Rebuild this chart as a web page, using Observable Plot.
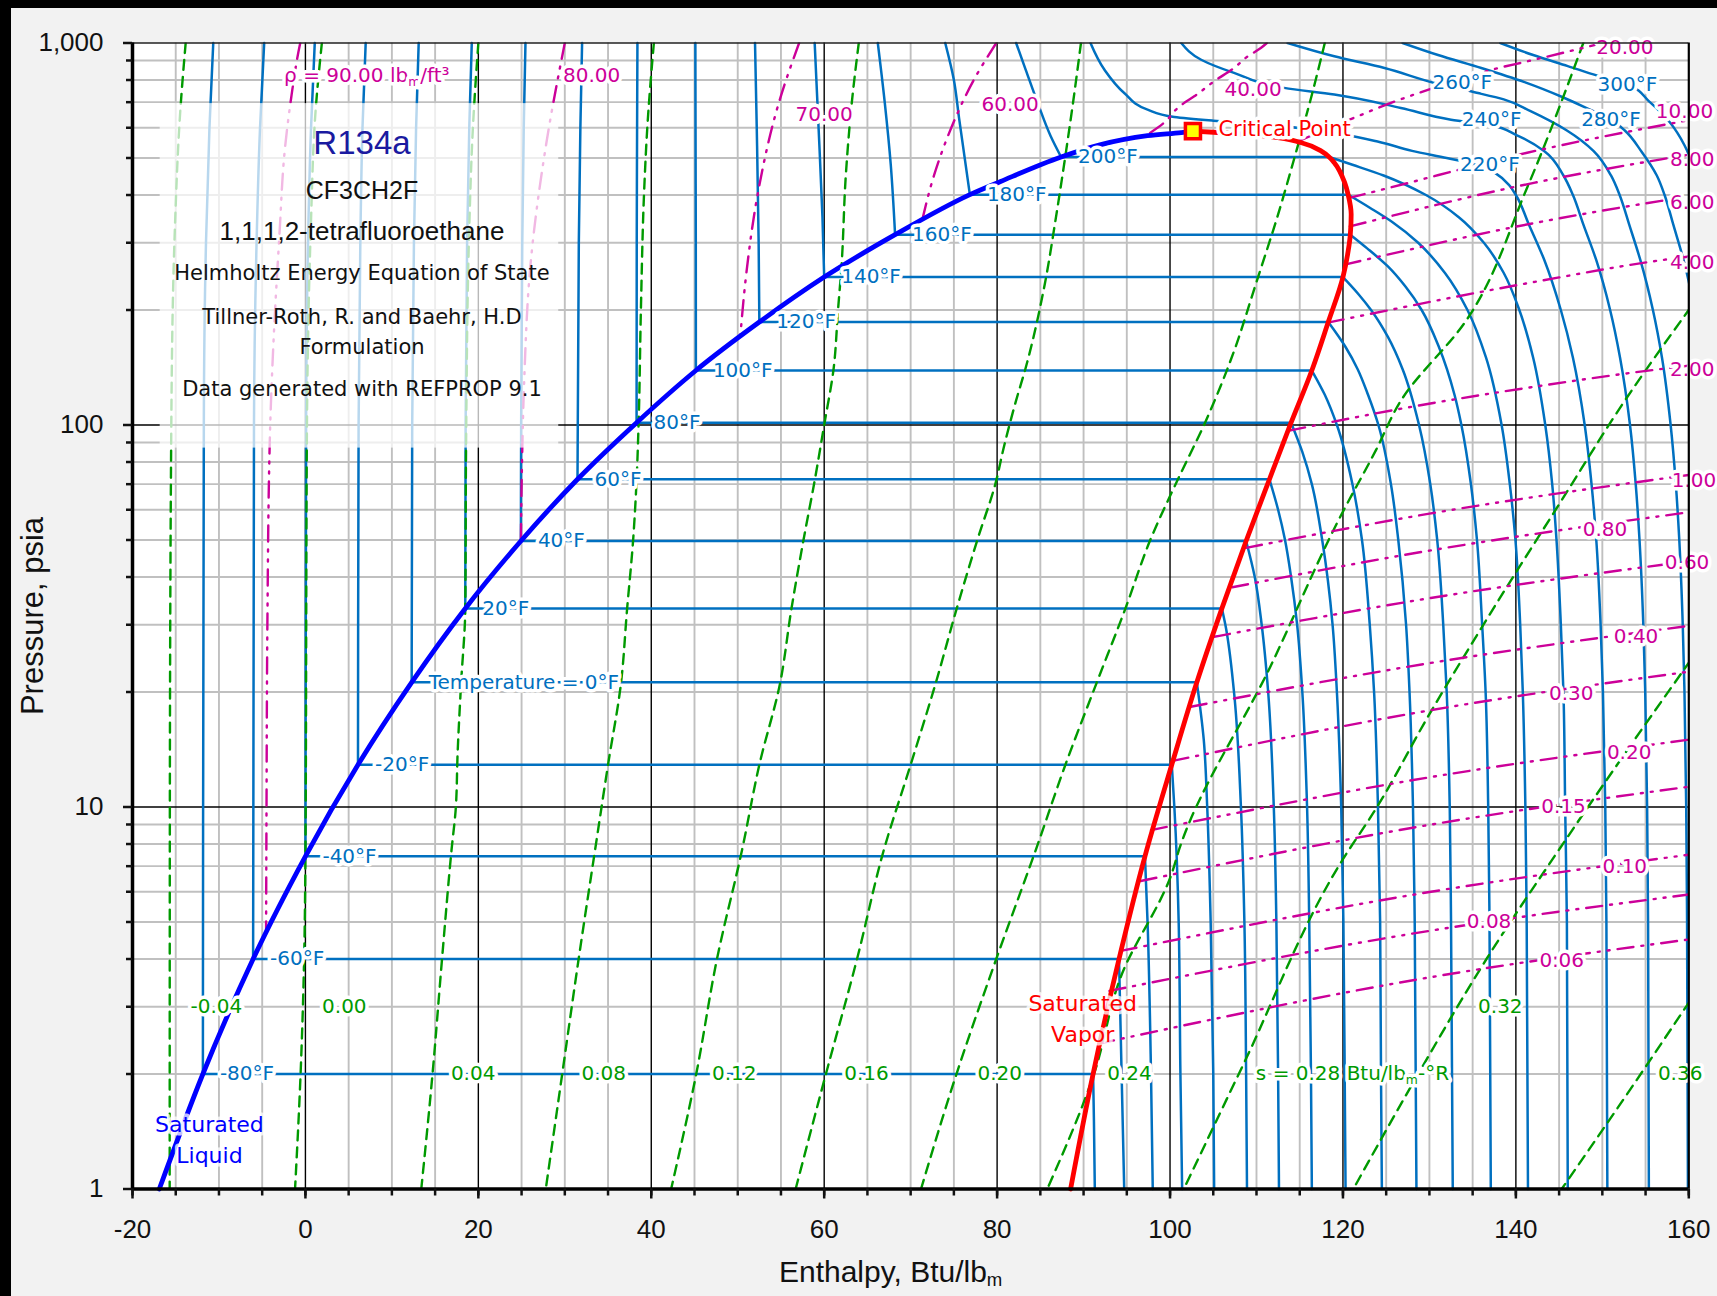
<!DOCTYPE html>
<html><head><meta charset="utf-8">
<script src="https://cdn.jsdelivr.net/npm/d3@7"></script>
<script src="https://cdn.jsdelivr.net/npm/@observablehq/plot@0.6"></script>
<style>
html,body{margin:0;padding:0;background:#f2f2f2;width:1717px;height:1296px;overflow:hidden;}
#wrap{position:absolute;left:0;top:0;width:1717px;height:1296px;}
#topbar{position:absolute;left:0;top:0;width:1717px;height:8px;background:#000;}
#leftbar{position:absolute;left:0;top:0;width:11px;height:1296px;background:#000;}
</style></head><body>
<div id="wrap"></div><div id="topbar"></div><div id="leftbar"></div>
<script>
// ---------- saturation data ----------
const satTemps    = [-80,-60,-40,-20,0,20,40,60,80,100,120,140,160,180,200];
const satPressure = [2.0,4.0,7.43,12.9,21.2,33.1,49.7,72.1,101.4,138.9,186.0,243.9,314.9,400.9,503];
const satHf       = [-11.86,-6.05,0,6.08,12.29,18.49,24.92,31.47,38.3,45.16,52.5,60.0,68.2,76.85,87.4];
const satHg       = [91.1,94.1,97.1,100.2,103.1,106.0,108.8,111.5,114.0,116.4,118.3,120.0,120.85,120.6,118.4];
const satLabels   = ["-80°F","-60°F","-40°F","-20°F","Temperature = 0°F","20°F","40°F","60°F","80°F","100°F","120°F","140°F","160°F","180°F","200°F"];

const satLiquidCurve = [[-16.9,1],[-11.86,2],[-6.05,4],[0,7.43],[6.08,12.9],[12.29,21.2],[18.49,33.1],[24.92,49.7],[31.47,72.1],[38.3,101.4],[45.16,138.9],[52.5,186],[60,243.9],[68.2,314.9],[76.85,400.9],[80.4,434],[87.4,503],[92.0,542],[97.4,572],[101.3,583],[102.7,588]];
const satVaporCurve  = [[102.7,588],[105.5,583],[111.3,570],[115.2,548],[117.5,521],[118.4,503],[119.0,486],[120.2,431],[120.6,400.9],[120.95,356],[120.85,314.9],[120.6,285],[120.0,243.9],[118.3,186],[116.4,138.9],[114.0,101.4],[111.5,72.1],[108.8,49.7],[106.0,33.1],[103.1,21.2],[100.2,12.9],[97.1,7.43],[94.1,4.0],[91.1,2.0],[88.5,1]];
const criticalPoint  = [[102.65,588]];

// ---------- isotherms ----------
const liquidIsotherms = [
 [-80,[[-10.66,1000],[-11.1,600],[-11.5,300],[-11.75,100],[-11.86,2.0]]],
 [-60,[[-4.77,1000],[-5.25,600],[-5.65,300],[-5.95,100],[-6.05,4.0]]],
 [-40,[[1.08,1000],[0.65,600],[0.3,300],[0.08,100],[0,7.43]]],
 [-20,[[6.97,1000],[6.6,600],[6.35,300],[6.15,100],[6.08,12.9]]],
 [0,[[13.1,1000],[12.8,600],[12.55,300],[12.35,100],[12.29,21.2]]],
 [20,[[19.24,1000],[18.95,600],[18.7,300],[18.53,100],[18.49,33.1]]],
 [40,[[25.45,1000],[25.25,600],[25.08,300],[24.95,100],[24.92,49.7]]],
 [60,[[32.0,1000],[31.8,600],[31.62,300],[31.5,100],[31.47,72.1]]],
 [80,[[38.4,1000],[38.36,600],[38.32,300],[38.3,101.4]]],
 [100,[[45.1,1000],[45.12,600],[45.15,300],[45.16,138.9]]],
 [120,[[52.0,1000],[52.2,600],[52.42,300],[52.5,186]]],
 [140,[[58.9,1000],[59.35,600],[59.8,350],[60.0,243.9]]],
 [160,[[66.2,1000],[67.0,700],[67.7,480],[68.2,314.9]]],
 [180,[[74.0,1000],[75.0,800],[75.6,636],[76.85,400.9]]],
 [200,[[82.2,1000],[83.3,852],[84.7,696],[86.2,570],[87.4,503]]]
];
const vaporIsotherms = [
 [-80,[[91.1,2.0],[91.2,1.5],[91.3,1]]],
 [-60,[[94.1,4.0],[94.4,2],[94.7,1]]],
 [-40,[[97.1,7.43],[97.4,5],[97.8,2],[98.0,1]]],
 [-20,[[100.2,12.9],[100.5,10],[101.0,5],[101.2,2],[101.4,1]]],
 [0,[[103.1,21.2],[103.9,15],[104.3,10],[104.7,5],[105.0,2],[105.1,1]]],
 [20,[[106.0,33.1],[106.4,30],[107.4,20],[108.2,10],[108.6,5],[108.8,2],[108.9,1]]],
 [40,[[108.8,49.7],[109.8,40],[110.6,30],[111.35,20],[112.0,10],[112.3,5],[112.5,2],[112.6,1]]],
 [60,[[111.5,72.1],[112.5,60],[113.3,50],[114.0,40],[114.7,30],[115.3,20],[115.85,10],[116.1,5],[116.3,2],[116.4,1]]],
 [80,[[114.0,101.4],[115.3,85],[116.4,70],[117.6,50],[118.8,30],[119.3,20],[119.8,10],[120.05,5],[120.2,2],[120.3,1]]],
 [100,[[116.4,138.9],[117.9,120],[119.3,100],[121.1,70],[122.2,50],[123.1,30],[123.6,20],[124.05,10],[124.3,5],[124.4,2],[124.5,1]]],
 [120,[[118.3,186],[120.3,160],[121.7,140],[122.9,120],[124.1,100],[125.55,70],[126.4,50],[127.3,30],[127.7,20],[128.1,10],[128.3,5],[128.5,1]]],
 [140,[[120.0,243.9],[121.8,220],[123.25,200],[125.2,170],[126.9,140],[128.8,100],[130.1,70],[130.9,50],[131.6,30],[132.0,20],[132.35,10],[132.5,5],[132.7,1]]],
 [160,[[120.85,314.9],[122.8,290],[125.2,260],[127.25,230],[129.1,200],[131.1,160],[132.9,120],[133.7,100],[134.8,70],[135.5,50],[136.1,30],[136.5,20],[136.8,10],[136.95,5],[137.1,1]]],
 [180,[[120.6,400.9],[123.15,370],[125.7,340],[128.7,300],[131.8,250],[134.4,200],[136.55,150],[138.35,100],[139.3,70],[139.95,50],[140.5,30],[140.8,20],[141.1,10],[141.25,5],[141.4,1]]],
 [200,[[118.4,503],[121.1,480],[124.7,450],[129.6,400],[133.4,350],[136.3,300],[138.6,250],[140.4,200],[142.0,150],[143.4,100],[144.2,70],[144.7,50],[145.2,30],[145.5,20],[145.7,10],[145.9,5],[146.0,1]]]
];
const superIsotherms = [
 [220,[[90.8,1000],[92.4,852],[94.7,740],[97.4,669],[100.5,640],[105,626],[111,612],[119,581],[124,552],[128,522],[132,500],[135.5,480],[137.7,455],[139.2,425],[140.0,400],[141.5,335],[143.3,270],[145.2,200],[146.6,150],[147.96,100],[148.75,70],[149.3,50],[149.8,30],[150.07,20],[150.34,10],[150.47,5],[150.58,1]]],
 [240,[[101.3,1000],[103.6,904],[107.4,835],[113.2,763],[119,733],[126.7,676],[132.5,630],[137.2,608],[140,575],[143.3,521],[145.5,450],[146.6,400],[147.8,335],[149.3,270],[150.9,200],[152.05,150],[153.2,100],[153.86,70],[154.3,50],[154.74,30],[154.96,20],[155.18,10],[155.29,5],[155.38,1]]],
 [260,[[113.6,1000],[119,923],[124.8,860],[130.6,786],[135,745],[138.6,712],[141.7,663],[145.9,590],[149.0,521],[151.0,450],[152.0,400],[153.1,335],[154.4,270],[155.85,200],[156.9,150],[157.9,100],[158.5,70],[158.9,50],[159.3,30],[159.5,20],[159.7,10],[159.8,5],[159.9,1]]],
 [280,[[126.9,1000],[131,930],[136,860],[141,790],[145.5,720],[148.5,670],[151.0,630],[152.6,590],[154.5,521],[156.3,450],[157.2,400],[158.2,335],[159.4,270],[160.7,200]]],
 [300,[[138.2,1000],[142,930],[146,870],[149.5,820],[152.9,779],[155.5,700],[157.8,620],[159.5,540],[160.6,470]]]
];
const superLabels = [["220°F",137.0,481],["240°F",137.2,630],["260°F",133.8,786],["280°F",151.0,630],["300°F",152.9,779]];

// ---------- isentropes (Btu/lbm-R) ----------
const isentropes = [
 [-0.04,[[-13.85,1000],[-14.45,676],[-15.12,316],[-15.52,95],[-15.68,10],[-15.7,1]]],
 [0.00,[[1.9,1000],[1.2,676],[0.6,316],[0.17,95],[0,7.43],[-0.15,4],[-0.56,2],[-1.2,1]]],
 [0.04,[[20.0,1000],[19.37,600],[18.93,316],[18.58,88],[18.49,33.1],[18.0,21],[17.6,13.8],[17.4,10],[16.9,7.72],[15.8,4],[14.7,2],[13.4,1]]],
 [0.08,[[40.3,1000],[39.54,600],[39.16,401],[38.8,200],[38.55,104],[38.3,71.5],[37.9,49.9],[37.2,32.9],[36.5,21.1],[35.0,12.9],[33.5,7.72],[31.6,4],[29.7,2],[27.8,1]]],
 [0.12,[[64.0,1000],[63.2,700],[62.5,450],[62.0,260],[61.6,200],[61.1,141],[60.0,100],[58.9,71.5],[57.6,49.9],[56.2,32.9],[54.9,21.1],[52.5,12.9],[50.5,7.72],[47.6,4],[45.2,2],[42.3,1]]],
 [0.16,[[89.7,1000],[88.8,703],[87.9,507],[86.8,349],[85.5,233],[83.3,141],[82.2,116],[80.7,86],[79.9,71.5],[77.7,49.9],[75.3,32.9],[72.9,21.1],[70.0,12.9],[66.9,7.72],[63.8,4],[60.2,2],[56.7,1]]],
 [0.20,[[117.9,1000],[116.2,703],[114.5,511],[112.5,356],[109.9,233],[107.4,156],[104.1,102],[100.9,72],[97.7,49.9],[94.8,32.9],[91.5,21.1],[87.9,12.9],[84.5,7.75],[79.9,4],[75.3,2],[71.2,1]]],
 [0.24,[[147.8,1000],[141.3,418],[134.2,187],[126.7,115.8],[123.8,85.8],[119.6,57],[111.6,23.3],[101.1,7.8],[100.2,6.7],[94.3,3.59],[91.2,2],[85.8,1]]],
 [0.28,[[160.2,203],[152.6,115.8],[145,62],[137,32],[130,17.5],[123.7,9.8],[120.0,7.3],[108.4,2.1],[101.6,1]]],
 [0.32,[[160.2,24.2],[152.8,14],[145.1,7.8],[136.6,4],[128.7,2],[121.2,1]]],
 [0.36,[[160.1,3.1],[152.7,1.75],[145.3,1]]]
];
const isentropeLabels = [["-0.04",-10.3,3.0],["0.00",4.5,3.0],["0.04",19.4,2.0],["0.08",34.5,2.0],["0.12",49.6,2.0],["0.16",64.9,2.0],["0.20",80.3,2.0],["0.24",95.3,2.0],["s = 0.28 Btu/lb_m-°R",121.1,2.0],["0.32",138.2,3.0],["0.36",159.0,2.0]];

// ---------- isochores (lbm/ft3) ----------
const liquidIsochores = [
 [90,[[-0.6,1000],[-0.8,950],[-1.65,718],[-2.4,521],[-3.0,316],[-3.65,173],[-4.1,95],[-4.4,30],[-4.5,10],[-4.55,4.7]]],
 [80,[[30.0,1000],[27.9,553],[26.0,258],[25.3,130],[25.05,80],[24.92,49.7]]],
 [70,[[57.1,1000],[54.8,703],[52.3,401],[51.0,250],[50.3,171]]],
 [60,[[79.9,1000],[77.3,800],[74.7,600],[72.7,450],[71.3,341]]],
 [40,[[111.2,1000],[110.5,970],[109.0,923],[107.4,860],[105.1,794],[102.8,725],[101.6,696],[100.5,663],[99.7,630],[97.4,576]]]
];
const vaporIsochores = [
 [20,[[114.8,553],[121.2,636],[126.0,703],[129.9,755],[138.0,860],[141.3,895],[149.3,990],[150.1,1000]]],
 [10,[[120.7,393],[125.4,418],[141.3,516],[157.2,611],[160,628]]],
 [8,[[120.8,331],[142.2,431],[156.8,496],[160,510]]],
 [6,[[120.2,263],[142.2,338],[156.8,386],[160,396]]],
 [4,[[118.25,185.4],[142.2,237],[156.8,270],[160,276]]],
 [2,[[113.8,96.7],[128.3,112],[142.2,126],[155.3,138.8],[160,143]]],
 [1,[[108.8,47.7],[130,58.6],[160,74]]],
 [0.8,[[107.2,37.6],[130,46.9],[160,59.1]]],
 [0.6,[[105.1,27.9],[130,35.2],[160,44]]],
 [0.4,[[102.4,18.3],[130,23.8],[160,29.8]]],
 [0.3,[[100.3,13.2],[130,17.9],[160,22.6]]],
 [0.2,[[97.8,8.7],[130,11.96],[160,15.0]]],
 [0.15,[[96.6,6.4],[130,8.98],[160,11.3]]],
 [0.1,[[94.3,4.2],[130,5.99],[160,7.5]]],
 [0.08,[[93.0,3.3],[130,4.74],[160,5.9]]],
 [0.06,[[91.7,2.4],[130,3.58],[160,4.5]]]
];
const isochoreLabels = [["ρ = 90.00 lb_m/ft³",7.1,822],["80.00",33.1,822],["70.00",60.0,650],["60.00",81.5,690],["40.00",109.6,755],["20.00",152.6,970],["10.00",159.5,663],["8.00",160.4,496],["6.00",160.4,381],["4.00",160.4,266],["2.00",160.4,140],["1.00",160.6,71.5],["0.80",150.3,53.3],["0.60",159.8,43.6],["0.40",153.9,27.9],["0.30",146.4,19.8],["0.20",153.1,13.9],["0.15",145.5,10.0],["0.10",152.6,7.0],["0.08",136.9,5.0],["0.06",145.3,3.97]];

// ---------- annotations ----------
const annotationBox = [[-16.8,29.3,87,694]];
const titleLines = [["R134a",6.54,545,33],["CF3CH2F",6.54,409,25],["1,1,1,2-tetrafluoroethane",6.54,320,26]];
const noteLines  = [["Helmholtz Energy Equation of State",6.54,250],["Tillner-Roth, R. and Baehr, H.D",6.54,192],["Formulation",6.54,160],["Data generated with REFPROP 9.1",6.54,124]];
const curveNames = [["Saturated\nLiquid",-11.1,1.364,"#0000ff"],["Saturated\nVapor",89.9,2.83,"#ff0000"]];
const criticalLabel = [["Critical Point",105.6,596]];

// ---------- axes ----------
const xMajor = [-20,0,20,40,60,80,100,120,140,160];
const xMinor = d3.range(-20,161,5);
const yMajor = [1,10,100,1000];
const yMinor = [2,3,4,5,6,7,8,9,20,30,40,50,60,70,80,90,200,300,400,500,600,700,800,900];
const gridMajorX = [0,20,40,60,80,100,120,140];
const gridMinorX = xMinor.filter(v => v % 20 !== 0);
const gridMajorY = [10,100];

// ---------- build rows ----------
const toRows = (series, tag) => series.flatMap(([k, pts]) => pts.map(([h, P]) => ({h, P, key: tag + k})));
const satRows = satTemps.map((t, i) => ({t, P: satPressure[i], hf: satHf[i], hg: satHg[i], label: satLabels[i]}));
const lab = arr => arr.map(([text, h, P, extra]) => ({text, h, P, extra}));

const blue = "#0070c0", green = "#009a00", magenta = "#cc0099";
const labelFont = "DejaVu Sans";
const halo = {stroke: "white", strokeWidth: 7, strokeLinejoin: "round", paintOrder: "stroke"};

const hasAxis = typeof Plot.axisX === "function";

const marks = [
  Plot.frame({fill: "white"}),
  Plot.ruleX(gridMinorX, {stroke: "#c0c0c0", strokeWidth: 1.9}),
  Plot.ruleY(yMinor, {stroke: "#c0c0c0", strokeWidth: 1.9}),
  Plot.ruleX(gridMajorX, {stroke: "#000", strokeWidth: 1.4}),
  Plot.ruleY(gridMajorY, {stroke: "#000", strokeWidth: 1.4}),
  // isotherms
  Plot.line(toRows(liquidIsotherms, "L"), {x: "h", y: "P", z: "key", stroke: blue, strokeWidth: 2.5, curve: "monotone-y"}),
  Plot.link(satRows, {x1: "hf", x2: "hg", y1: "P", y2: "P", stroke: blue, strokeWidth: 2.5}),
  Plot.line(toRows(vaporIsotherms, "V"), {x: "h", y: "P", z: "key", stroke: blue, strokeWidth: 2.5, curve: "monotone-y"}),
  Plot.line(toRows(superIsotherms, "S"), {x: "h", y: "P", z: "key", stroke: blue, strokeWidth: 2.5, curve: "monotone-y", clip: true}),
  // isentropes
  Plot.line(toRows(isentropes, "s"), {x: "h", y: "P", z: "key", stroke: green, strokeWidth: 2.4, strokeDasharray: "10,7", curve: "monotone-y", clip: true}),
  // isochores
  Plot.line(toRows(liquidIsochores, "d"), {x: "h", y: "P", z: "key", stroke: magenta, strokeWidth: 2.4, strokeDasharray: "16,8,2,8,2,8", curve: "monotone-y", clip: true}),
  Plot.line(toRows(vaporIsochores, "v"), {x: "h", y: "P", z: "key", stroke: magenta, strokeWidth: 2.4, strokeDasharray: "16,8,2,8,2,8", curve: "monotone-x", clip: true}),
  // saturation dome
  Plot.line(satLiquidCurve, {x: d => d[0], y: d => d[1], stroke: "#0000ff", strokeWidth: 4.8, curve: "monotone-x"}),
  Plot.line(satVaporCurve, {x: d => d[0], y: d => d[1], stroke: "#ff0000", strokeWidth: 4.8, curve: "monotone-y"}),
  // annotation box
  Plot.rect(annotationBox, {x1: d => d[0], x2: d => d[1], y1: d => d[2], y2: d => d[3], fill: "white", fillOpacity: 0.72}),
  // labels
  Plot.text(satRows, {x: "hf", y: "P", text: "label", textAnchor: "start", dx: 17, fill: blue, fontFamily: labelFont, fontSize: 20, ...halo}),
  Plot.text(lab(superLabels), {x: "h", y: "P", text: "text", fill: blue, fontFamily: labelFont, fontSize: 20, ...halo}),
  Plot.text(lab(isentropeLabels), {x: "h", y: "P", text: "text", fill: green, fontFamily: labelFont, fontSize: 20, ...halo}),
  Plot.text(lab(isochoreLabels), {x: "h", y: "P", text: "text", fill: magenta, fontFamily: labelFont, fontSize: 20, ...halo}),
  Plot.text(lab(titleLines).slice(0,1), {x: "h", y: "P", text: "text", fill: "#1a1aa0", fontFamily: "Liberation Sans", fontSize: 33}),
  Plot.text(lab(titleLines).slice(1,2), {x: "h", y: "P", text: "text", fill: "#111", fontFamily: "Liberation Sans", fontSize: 25}),
  Plot.text(lab(titleLines).slice(2,3), {x: "h", y: "P", text: "text", fill: "#111", fontFamily: "Liberation Sans", fontSize: 26}),
  Plot.text(lab(noteLines), {x: "h", y: "P", text: "text", fill: "#111", fontFamily: labelFont, fontSize: 21}),
  Plot.text(lab(curveNames), {x: "h", y: "P", text: "text", fill: "extra", fontFamily: labelFont, fontSize: 22, lineHeight: 1.4, stroke: "white", strokeOpacity: 0.75, strokeWidth: 7, strokeLinejoin: "round", paintOrder: "stroke"}),
  Plot.text(lab(criticalLabel), {x: "h", y: "P", text: "text", textAnchor: "start", fill: "#ff0000", fontFamily: labelFont, fontSize: 21, ...halo}),
  Plot.dot(criticalPoint, {x: d => d[0], y: d => d[1], symbol: "square", r: 8.5, fill: "#ffff00", stroke: "#ff0000", strokeWidth: 3.5}),
  // frame lines
  Plot.ruleY([1000], {stroke: "#222", strokeWidth: 1.6}),
  Plot.ruleX([160], {stroke: "#000", strokeWidth: 2.2}),
  Plot.ruleX([-20], {stroke: "#000", strokeWidth: 3.5}),
  Plot.ruleY([1], {stroke: "#000", strokeWidth: 3.5}),
  // axis titles
  Plot.text(["Pressure, psia"], {frameAnchor: "left", textAnchor: "middle", dx: -99.5, rotate: -90, fontSize: 31, fontFamily: "Liberation Sans", fill: "#111"}),
  Plot.text(["Enthalpy, Btu/lb_m"], {frameAnchor: "bottom", textAnchor: "middle", dy: 93, dx: -20, fontSize: 30, fontFamily: "Liberation Sans", fill: "#111"})
];

if (hasAxis) {
  marks.push(
    Plot.axisX({ticks: xMinor, tickSize: 7, tickFormat: () => "", label: null, strokeWidth: 2.5}),
    Plot.axisX({ticks: xMajor, tickSize: 10, tickPadding: 21, tickFormat: d => String(d), fontSize: 26, fontFamily: "Liberation Sans", label: null, strokeWidth: 2.5}),
    Plot.axisY({ticks: yMinor, tickSize: 6, tickFormat: () => "", label: null, strokeWidth: 2.5}),
    Plot.axisY({ticks: yMajor, tickSize: 9, tickPadding: 20, tickFormat: d3.format(","), fontSize: 26, fontFamily: "Liberation Sans", label: null, strokeWidth: 2.5})
  );
}

const plot = Plot.plot({
  width: 1717, height: 1296,
  marginLeft: 132, marginRight: 28.7, marginTop: 42.5, marginBottom: 107.5,
  style: {background: "transparent", overflow: "visible", fontFamily: "Liberation Sans", fontSize: "26px", color: "#111"},
  x: {domain: [-20, 160], ...(hasAxis ? {} : {ticks: xMajor, tickSize: 10, tickPadding: 21, tickFormat: d => String(d), label: null})},
  y: {type: "log", domain: [1, 1000], ...(hasAxis ? {} : {ticks: yMajor, tickSize: 9, tickPadding: 20, tickFormat: d3.format(","), label: null})},
  marks
});

// subscript "m" in lbm
const NS = "http://www.w3.org/2000/svg";
plot.querySelectorAll("text").forEach(t => {
  if (t.children.length === 0 && t.textContent.includes("_m")) {
    const parts = t.textContent.split("_m");
    t.textContent = "";
    parts.forEach((p, i) => {
      if (i > 0) {
        const s = document.createElementNS(NS, "tspan");
        s.setAttribute("baseline-shift", "-4");
        s.setAttribute("font-size", "62%");
        s.textContent = "m";
        t.appendChild(s);
      }
      const n = document.createElementNS(NS, "tspan");
      n.textContent = p;
      t.appendChild(n);
    });
  }
});
document.getElementById("wrap").appendChild(plot);
</script></body></html>
